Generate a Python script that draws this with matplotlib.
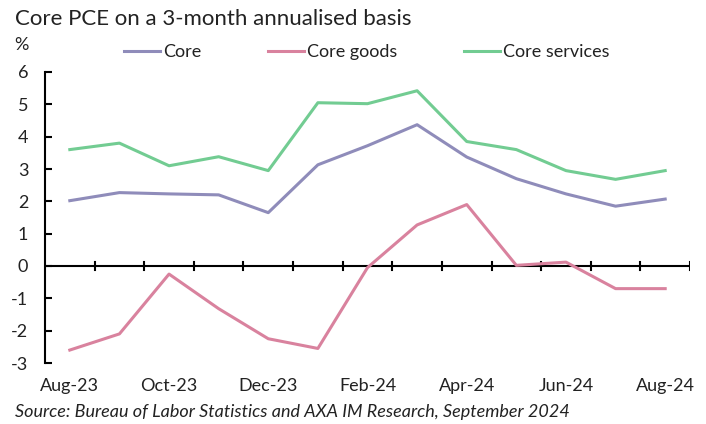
import matplotlib.pyplot as plt
import numpy as np

# monthly values, % 3-month annualised
months = ['Aug-23', 'Sep-23', 'Oct-23', 'Nov-23', 'Dec-23', 'Jan-24', 'Feb-24',
          'Mar-24', 'Apr-24', 'May-24', 'Jun-24', 'Jul-24', 'Aug-24']
core = [2.02, 2.27, 2.23, 2.20, 1.65, 3.13, 3.72, 4.37, 3.37, 2.70, 2.23, 1.85, 2.07]
core_goods = [-2.60, -2.10, -0.25, -1.32, -2.25, -2.55, -0.05, 1.27, 1.90, 0.02, 0.12, -0.70, -0.70]
core_services = [3.60, 3.80, 3.10, 3.38, 2.95, 5.05, 5.02, 5.42, 3.85, 3.60, 2.95, 2.68, 2.95]
yticks = [-3, -2, -1, 0, 1, 2, 3, 4, 5, 6]

plt.rcParams['font.family'] = ['Lato', 'DejaVu Sans']

fig = plt.figure(figsize=(7.06, 4.24), dpi=100)
ax = fig.add_axes([45/706, 1-363/424, 645/706, 291/424])

x = np.arange(len(months))
ax.plot(x, core, color='#8f8cba', lw=2.2, label='Core')
ax.plot(x, core_goods, color='#d9829e', lw=2.2, label='Core goods')
ax.plot(x, core_services, color='#72cc92', lw=2.2, label='Core services')

ax.set_xlim(-0.5, len(months) - 0.5)
ax.set_ylim(-3, 6)
ax.set_yticks(yticks)
ax.set_yticklabels([str(v) for v in yticks])

# category boundaries carry the tick marks on the zero line
for s in ['top', 'right', 'bottom']:
    ax.spines[s].set_visible(False)
ax.spines['left'].set_linewidth(1.5)
ax.axhline(0, color='black', lw=1.5, zorder=1)
for b in np.arange(0.5, len(months) - 0.5 + 1e-9, 1.0):
    ax.plot([b, b], [-0.12, 0.12], color='black', lw=1.5, zorder=1)

# month labels every second category, below the plot area
ax.set_xticks(x[::2])
ax.set_xticklabels(months[::2])
ax.tick_params(axis='x', length=0, labelsize=13, colors='#222222', pad=11)
ax.tick_params(axis='y', direction='in', length=5, width=1.5, labelsize=13,
               colors='black', labelcolor='#222222', pad=12)

fig.text(15/706, 1-19/424, 'Core PCE on a 3-month annualised basis', fontsize=16,
         color='#222222', va='center', ha='left')
fig.text(14/706, 1-45/424, '%', fontsize=13, color='#222222', va='center', ha='left')
fig.text(15/706, 1-412/424,
         'Source: Bureau of Labor Statistics and AXA IM Research, September 2024',
         fontsize=13, style='italic', color='#222222', va='center', ha='left')

fig.legend(loc='center left', bbox_to_anchor=(108/706, 1-52/424), ncol=3, frameon=False,
           fontsize=13, handlelength=2.0, handletextpad=0.15, columnspacing=3.7,
           labelcolor='#222222')

fig.savefig('out.png', dpi=100, facecolor='white')
